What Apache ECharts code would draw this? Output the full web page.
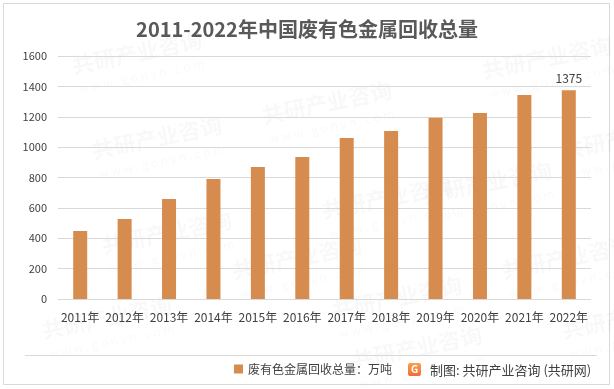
<!DOCTYPE html>
<html>
<head>
<meta charset="utf-8">
<script src="https://cdn.jsdelivr.net/npm/echarts@6/dist/echarts.min.js"></script>
<style>
html,body{margin:0;padding:0;background:#fff;}
#c{width:614px;height:389px;}
</style>
</head>
<body>
<div id="c"></div>
<script>
const categories = ['2011年','2012年','2013年','2014年','2015年','2016年','2017年','2018年','2019年','2020年','2021年','2022年'];
const values = [448, 527, 658, 790, 869, 935, 1060, 1106, 1194, 1225, 1343, 1375];
const yTicks = [0, 1600, 200];
const seriesName = '废有色金属回收总量：万吨';
const titleText = '2011-2022年中国废有色金属回收总量';
const sourceText = '制图: 共研产业咨询 (共研网)';

const FONT = '"Noto Sans CJK SC", "Noto Sans", sans-serif';
const BAR = '#D58C4E';

const chart = echarts.init(document.getElementById('c'), null, {renderer:'canvas'});

const wm = [];
const wmPos = [[70,55],[260,105],[90,140],[230,260],[320,200],[420,185],[330,300],[100,235],[480,60],[560,140],[500,260],[40,320],[350,350],[560,320]];
wmPos.forEach(p => {
  wm.push({type:'text', x:p[0], y:p[1], rotation:0.2, silent:true, z:0,
    style:{text:'共研产业咨询', font:'bold 22px ' + FONT, fill:'rgba(0,0,0,0.028)'}});
  wm.push({type:'text', x:p[0]+8, y:p[1]+28, rotation:0.2, silent:true, z:0,
    style:{text:'w w w . g o n y n . c o m', font:'12px ' + FONT, fill:'rgba(0,0,0,0.028)'}});
});

chart.setOption({
  backgroundColor:'#fff',
  animation:false,
  title:{
    text:titleText, left:'center', top:14,
    textStyle:{fontFamily:FONT, fontSize:20, fontWeight:'bold', color:'#595959'}
  },
  grid:{left:58, right:23, top:56, bottom:90, containLabel:false},
  legend:{
    data:[seriesName], left:229, top:358, itemWidth:9, itemHeight:9, icon:'rect', itemGap:4,
    textStyle:{fontFamily:FONT, fontSize:12, color:'#404040'}
  },
  xAxis:{
    type:'category', data:categories,
    axisLine:{show:false}, axisTick:{show:false},
    axisLabel:{interval:0, fontFamily:FONT, fontSize:12, color:'#404040', margin:12}
  },
  yAxis:{
    type:'value', min:yTicks[0], max:yTicks[1], interval:yTicks[2],
    axisLine:{show:false}, axisTick:{show:false},
    axisLabel:{fontFamily:FONT, fontSize:11, color:'#404040', margin:11, formatter: v => String(v)},
    splitLine:{lineStyle:{color:'#d9d9d9', width:1}}
  },
  series:[{
    name:seriesName, type:'bar', data:values, barWidth:14,
    itemStyle:{color:BAR},
    label:{
      show:true, position:'top', distance:6,
      fontFamily:FONT, fontSize:12, color:'#404040',
      formatter: p => p.dataIndex === values.length - 1 ? String(p.value) : ''
    }
  }],
  graphic:[
    {type:'rect', shape:{x:3.5, y:3.5, width:606, height:381}, silent:true, z:-1,
      style:{fill:null, stroke:'#d9d9d9', lineWidth:1}},
    ...wm,
    {type:'line', shape:{x1:25, y1:355.5, x2:597, y2:355.5}, silent:true,
      style:{stroke:'#d9d9d9', lineWidth:1}},
    {type:'rect', shape:{x:408, y:363, width:13, height:13, r:2}, silent:true,
      style:{fill:new echarts.graphic.LinearGradient(0,0,0,1,[{offset:0,color:'#F7A24A'},{offset:1,color:'#F26B3A'}])}},
    {type:'text', x:414.5, y:369.5, silent:true,
      style:{text:'G', font:'bold 10px ' + FONT, fill:'#fff', align:'center', verticalAlign:'middle'}},
    {type:'text', x:430, y:370, silent:true,
      style:{text:sourceText, font:'13px ' + FONT, fill:'#404040', verticalAlign:'middle'}}
  ]
});
</script>
</body>
</html>
